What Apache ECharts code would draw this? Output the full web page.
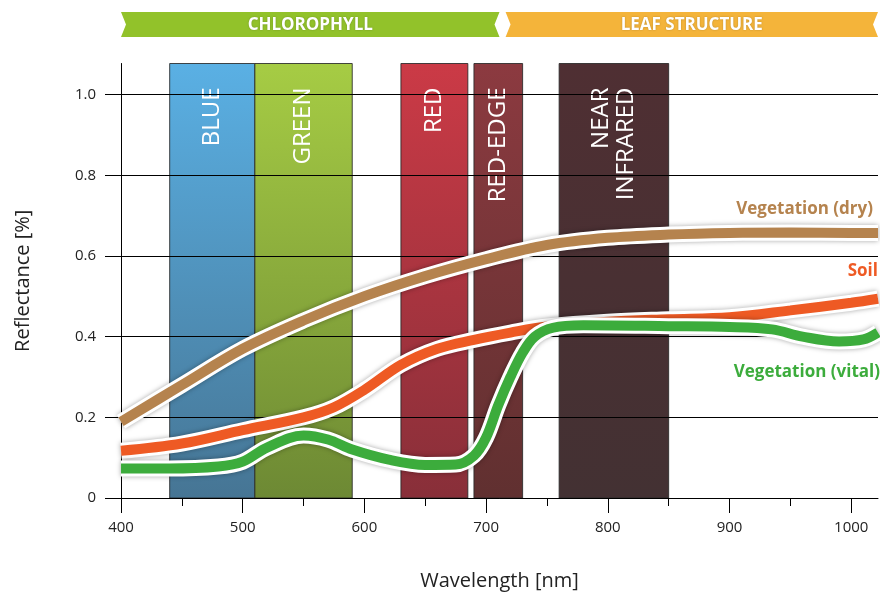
<!DOCTYPE html>
<html>
<head>
<meta charset="utf-8">
<script src="https://cdn.jsdelivr.net/npm/echarts@6/dist/echarts.min.js"></script>
<style>
html, body { margin: 0; padding: 0; background: #fff; }
#main { width: 880px; height: 596px; }
</style>
</head>
<body>
<div id="main"></div>
<script>
// axis ticks
var xTicks = [400, 500, 600, 700, 800, 900, 1000];
var xMinorTicks = [450, 550, 650, 750, 850, 950];
var yTicks = [0, 0.2, 0.4, 0.6, 0.8, 1.0];

// spectral bands (nm)
var bandNames = ['BLUE', 'GREEN', 'RED', 'RED-EDGE', 'NEAR\nINFRARED'];
var bandStart = [440, 510, 630, 690, 760];
var bandEnd = [510, 590, 685, 730, 850];

// banners on top (nm)
var bannerNames = ['CHLOROPHYLL', 'LEAF STRUCTURE'];
var bannerStart = [400, 716];
var bannerEnd = [711, 1022];

// curves
var dryNm  = [400, 450, 500, 550, 600, 650, 700, 750, 800, 850, 900, 950, 1000, 1022];
var dryVal = [0.189, 0.28, 0.37, 0.44, 0.5, 0.55, 0.592, 0.627, 0.645, 0.653, 0.657, 0.658, 0.657, 0.657];

var soilNm  = [400, 450, 500, 550, 575, 600, 630, 660, 690, 720, 750, 800, 850, 900, 950, 1000, 1022];
var soilVal = [0.117, 0.135, 0.168, 0.2, 0.225, 0.268, 0.33, 0.37, 0.392, 0.41, 0.425, 0.437, 0.443, 0.448, 0.465, 0.484, 0.494];

var vitalNm  = [400, 440, 480, 500, 520, 550, 570, 590, 620, 650, 675, 690, 700, 710, 720, 730, 740, 755, 780, 850, 900, 935, 960, 990, 1010, 1022];
var vitalVal = [0.073, 0.073, 0.078, 0.09, 0.125, 0.155, 0.145, 0.12, 0.095, 0.082, 0.083, 0.105, 0.15, 0.23, 0.3, 0.36, 0.4, 0.422, 0.428, 0.426, 0.424, 0.418, 0.4, 0.388, 0.393, 0.41];

var yTop = 1.077;
var font = '"Open Sans", "Noto Sans", sans-serif';

var bandColors = [
  ['#5ab0e4', '#467594'],
  ['#a6cc44', '#6d8934'],
  ['#cb3a46', '#882f39'],
  ['#8c3a40', '#603030'],
  ['#4f2f33', '#433133']
];
var bannerColors = ['#92c22a', '#f4b43a'];

function zip(a, b) {
  return a.map(function (v, i) { return [v, b[i]]; });
}

var dom = document.getElementById('main');
var myChart = echarts.init(dom);

function curve(name, nm, val, color, labelOffset) {
  var d = zip(nm, val);
  var last = d[d.length - 1];
  return [{
    name: name + '-outline',
    type: 'line',
    data: d,
    smooth: 0.35,
    showSymbol: false,
    silent: true,
    z: 5,
    lineStyle: {
      color: '#fff',
      width: 16,
      shadowBlur: 5,
      shadowColor: 'rgba(0,0,0,0.35)'
    }
  }, {
    name: name,
    type: 'line',
    data: d,
    smooth: 0.35,
    showSymbol: false,
    z: 5,
    lineStyle: { color: color, width: 10 },
    markPoint: {
      symbol: 'circle',
      symbolSize: 0,
      data: [{ coord: last }],
      label: {
        show: true,
        position: 'left',
        distance: 5,
        offset: labelOffset,
        formatter: name,
        color: color,
        fontFamily: font,
        fontWeight: 'bold',
        fontSize: 17
      }
    }
  }];
}

var bandData = bandNames.map(function (n, i) { return [bandStart[i], bandEnd[i], i]; });
var bannerData = bannerNames.map(function (n, i) { return [bannerStart[i], bannerEnd[i], i]; });

var option = {
  animation: false,
  grid: { left: 121, right: 2, top: 63.5, bottom: 95 },
  xAxis: [{
    type: 'value',
    min: 400,
    max: 1022,
    position: 'bottom',
    name: 'Wavelength [nm]',
    nameLocation: 'middle',
    nameGap: 73,
    nameTextStyle: { color: '#222', fontSize: 20, fontFamily: font },
    axisLine: { onZero: false, lineStyle: { color: '#000', width: 1 } },
    axisTick: { customValues: xTicks, length: 15, lineStyle: { color: '#000' } },
    axisLabel: {
      customValues: xTicks,
      margin: 22,
      color: '#222',
      fontSize: 15,
      fontFamily: font,
      formatter: function (v) { return String(v); }
    },
    splitLine: { show: false },
    z: 3
  }, {
    type: 'value',
    min: 400,
    max: 1022,
    position: 'bottom',
    axisLine: { show: false, onZero: false },
    axisTick: { customValues: xMinorTicks, length: 8, lineStyle: { color: '#000' } },
    axisLabel: { show: false },
    splitLine: { show: false },
    z: 3
  }],
  yAxis: {
    type: 'value',
    min: 0,
    max: yTop,
    name: 'Reflectance [%]',
    nameLocation: 'middle',
    nameGap: 88,
    nameTextStyle: { color: '#222', fontSize: 20, fontFamily: font },
    axisLine: { show: true, lineStyle: { color: '#000' } },
    axisTick: { customValues: yTicks, length: 16, lineStyle: { color: '#000' } },
    axisLabel: {
      customValues: yTicks,
      margin: 25,
      color: '#222',
      fontSize: 15,
      fontFamily: font,
      formatter: function (v) { return v === 0 ? '0' : v.toFixed(1); }
    },
    splitLine: { show: true, lineStyle: { color: '#000', width: 1 } },
    z: 3
  },
  series: [{
    name: 'bands',
    type: 'custom',
    z: 2,
    silent: true,
    data: bandData,
    renderItem: function (params, api) {
      var i = api.value(2);
      var p0 = api.coord([api.value(0), 0]);
      var p1 = api.coord([api.value(1), yTop]);
      return {
        type: 'group',
        children: [{
          type: 'rect',
          shape: { x: p0[0], y: p1[1], width: p1[0] - p0[0], height: p0[1] - p1[1] },
          style: {
            fill: new echarts.graphic.LinearGradient(0, 0, 0, 1, [
              { offset: 0, color: bandColors[i][0] },
              { offset: 1, color: bandColors[i][1] }
            ]),
            stroke: 'rgba(40,40,40,0.85)',
            lineWidth: 1
          }
        }, {
          type: 'text',
          x: (p0[0] + p1[0]) / 2,
          y: p1[1] + 24,
          rotation: Math.PI / 2,
          style: {
            text: bandNames[i],
            fill: '#fff',
            font: '24px ' + font,
            align: 'right',
            verticalAlign: 'middle',
            lineHeight: 25
          }
        }]
      };
    }
  }, {
    name: 'banners',
    type: 'custom',
    silent: true,
    z: 2,
    data: bannerData,
    renderItem: function (params, api) {
      var i = api.value(2);
      var x0 = api.coord([api.value(0), 0])[0];
      var x1 = api.coord([api.value(1), 0])[0];
      var top = 12, bot = 37, mid = (top + bot) / 2, d = 5;
      return {
        type: 'group',
        children: [{
          type: 'polygon',
          shape: { points: [[x0, top], [x1, top], [x1 - d, mid], [x1, bot], [x0, bot], [x0 + d, mid]] },
          style: { fill: bannerColors[i] }
        }, {
          type: 'text',
          x: (x0 + x1) / 2,
          y: mid + 1,
          style: {
            text: bannerNames[i],
            fill: '#fff',
            font: 'bold 17px ' + font,
            align: 'center',
            verticalAlign: 'middle',
            textShadowColor: 'rgba(0,0,0,0.25)',
            textShadowBlur: 2
          }
        }]
      };
    }
  }]
  .concat(curve('Vegetation (dry)', dryNm, dryVal, '#b5834e', [0, -24]))
  .concat(curve('Soil', soilNm, soilVal, '#ee5a24', [5, -28]))
  .concat(curve('Vegetation (vital)', vitalNm, vitalVal, '#3cac3c', [7, 40]))
};

if (option && typeof option === 'object') {
  myChart.setOption(option, true);
}
</script>
</body>
</html>
